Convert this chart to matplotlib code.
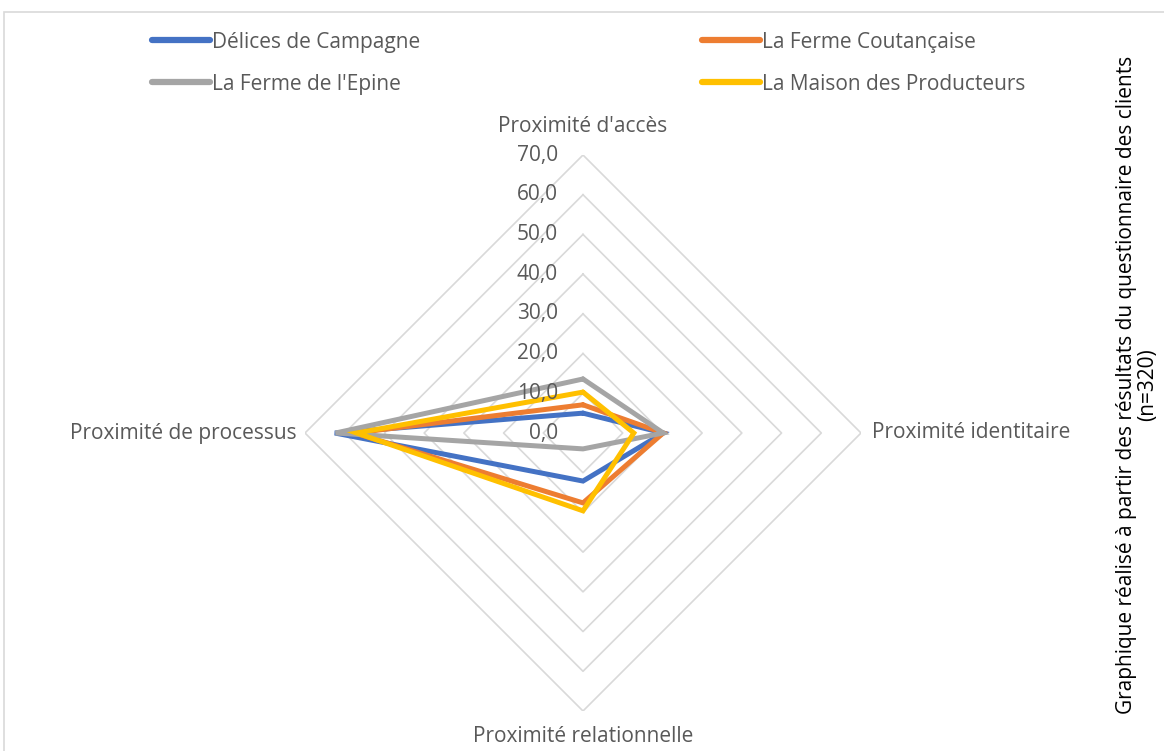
import matplotlib.pyplot as plt
import numpy as np
from matplotlib.patches import Rectangle
from matplotlib.lines import Line2D

plt.rcParams['font.family'] = ['Open Sans', 'DejaVu Sans']

axes_labels = ["Proximité d'accès", "Proximité identitaire",
               "Proximité relationnelle", "Proximité de processus"]
series_names = ["Délices de Campagne", "La Ferme Coutançaise",
                "La Ferme de l'Epine", "La Maison des Producteurs"]
delices = [5.0, 20.2, 12.1, 62.5]
coutancaise = [7.1, 20.2, 17.6, 57.5]
epine = [13.6, 20.2, 4.0, 62.3]
maison = [10.3, 12.8, 19.6, 57.0]
colors = ["#4472c4", "#ed7d31", "#a5a5a5", "#ffc000"]
ring_values = [0, 10, 20, 30, 40, 50, 60, 70]
tick_labels = ["0,0", "10,0", "20,0", "30,0", "40,0", "50,0", "60,0", "70,0"]

W, H = 1164, 751
fig = plt.figure(figsize=(W / 100, H / 100), dpi=100)

# chart area border
fig.patches.append(Rectangle((4 / W, -0.1), 1.2, 1 - 12 / H + 0.1,
                             transform=fig.transFigure, fill=False,
                             edgecolor="#d9d9d9", linewidth=1.2))

cx, cy, rad = 583, 433, 278
ax = fig.add_axes([(cx - rad) / W, 1 - (cy + rad) / H, 2 * rad / W, 2 * rad / H],
                  projection="polar")
ax.set_theta_offset(np.pi / 2)
ax.set_theta_direction(-1)
ax.set_ylim(0, 70)
ax.grid(False)
ax.spines["polar"].set_visible(False)
ax.set_xticks([])
ax.set_yticks([])
ax.patch.set_alpha(0)

theta = np.linspace(0, 2 * np.pi, len(axes_labels), endpoint=False)
closed = np.append(theta, theta[0])

# diamond rings
for r in ring_values[1:]:
    ax.plot(closed, [r] * len(closed), color="#d9d9d9", linewidth=1.2, zorder=1)

for vals, name, c in zip([delices, coutancaise, epine, maison], series_names, colors):
    ax.plot(closed, vals + vals[:1], color=c, linewidth=3.6, label=name, zorder=3,
            solid_joinstyle="miter", solid_capstyle="round")

# value labels along the top axis
fs = 15
for r, t in zip(ring_values, tick_labels):
    ax.annotate(t, (0, r), xytext=(-25, 0), textcoords="offset pixels",
                ha="right", va="center", fontsize=fs, color="#595959", zorder=4)

# category labels
txt = dict(fontsize=fs, color="#595959", va="center", textcoords="offset pixels")
ax.annotate(axes_labels[0], (0, 70), xytext=(0, 28), ha="center", **txt)
ax.annotate(axes_labels[1], (theta[1], 70), xytext=(11, 0), ha="left", **txt)
ax.annotate(axes_labels[2], (theta[2], 70), xytext=(0, -26), ha="center", **txt)
ax.annotate(axes_labels[3], (theta[3], 70), xytext=(-8, 0), ha="right", **txt)

# legend filled row by row
order = [0, 2, 1, 3]
handles = [Line2D([], [], color=colors[i], linewidth=4.5, solid_capstyle="round")
           for i in order]
fig.legend(handles, [series_names[i] for i in order], loc="upper left",
           bbox_to_anchor=(133 / W, 1 - 13 / H), ncol=2, frameon=False,
           fontsize=fs, handlelength=2.8, handletextpad=0.1,
           columnspacing=13.5, labelspacing=1.0, labelcolor="#595959")

fig.text(1137 / W, 1 - 385 / H,
         "Graphique réalisé à partir des résultats du questionnaire des clients\n(n=320)",
         rotation=90, ha="center", va="center", fontsize=fs, color="#000000",
         multialignment="center", linespacing=1.05)

fig.savefig("out.png", dpi=100)
